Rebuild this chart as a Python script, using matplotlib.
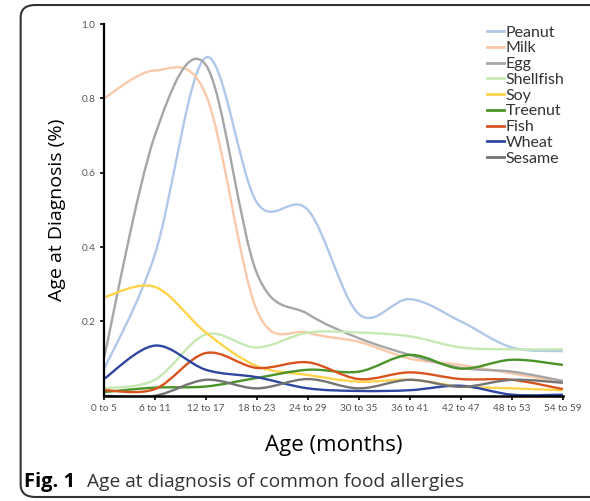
import numpy as np
import matplotlib
matplotlib.use('Agg')
import matplotlib.pyplot as plt
from matplotlib.path import Path
from matplotlib.patches import PathPatch, FancyBboxPatch
from matplotlib.lines import Line2D

# 数据
age_groups = ['0 to 5', '6 to 11', '12 to 17', '18 to 23', '24 to 29',
              '30 to 35', '36 to 41', '42 to 47', '48 to 53', '54 to 59']
peanut = [0.07, 0.38, 0.91, 0.52, 0.50, 0.22, 0.26, 0.20, 0.13, 0.12]
milk = [0.80, 0.875, 0.81, 0.23, 0.17, 0.145, 0.10, 0.083, 0.06, 0.037]
egg = [0.10, 0.70, 0.89, 0.33, 0.22, 0.155, 0.11, 0.075, 0.065, 0.04]
shellfish = [0.02, 0.043, 0.165, 0.13, 0.17, 0.17, 0.16, 0.13, 0.125, 0.125]
soy = [0.265, 0.293, 0.17, 0.08, 0.056, 0.038, 0.043, 0.025, 0.02, 0.015]
treenut = [0.01, 0.022, 0.025, 0.048, 0.07, 0.065, 0.11, 0.073, 0.097, 0.083]
fish = [0.015, 0.018, 0.115, 0.075, 0.09, 0.045, 0.063, 0.045, 0.043, 0.018]
wheat = [0.045, 0.135, 0.07, 0.05, 0.02, 0.013, 0.015, 0.027, 0.003, 0.003]
sesame = [0.0, 0.0, 0.043, 0.02, 0.045, 0.02, 0.043, 0.024, 0.043, 0.035]

names = ['Peanut', 'Milk', 'Egg', 'Shellfish', 'Soy', 'Treenut', 'Fish', 'Wheat', 'Sesame']
series = [peanut, milk, egg, shellfish, soy, treenut, fish, wheat, sesame]
colors = ['#AFC8EA', '#F9C9A9', '#A6A6A6', '#C6E9B3', '#FFD44A',
          '#4A9328', '#D8541F', '#2F47A0', '#747474']


def smooth_path(xs, ys):
    # Excel 风格的平滑曲线（三次贝塞尔）
    pts = np.column_stack([xs, ys])
    n = len(pts)
    verts = [pts[0]]
    codes = [Path.MOVETO]
    for i in range(n - 1):
        p0 = pts[max(i - 1, 0)]
        p1 = pts[i]
        p2 = pts[i + 1]
        p3 = pts[min(i + 2, n - 1)]
        c1 = p1 + (p2 - p0) / 6.0
        c2 = p2 - (p3 - p1) / 6.0
        verts += [c1, c2, p2]
        codes += [Path.CURVE4] * 3
    return Path(verts, codes)


fig = plt.figure(figsize=(5.9, 5.01), dpi=100)
ax = fig.add_axes([0.176, 0.21, 0.778, 0.742])

x = np.arange(len(age_groups))
for name, ys, c in zip(names, series, colors):
    patch = PathPatch(smooth_path(x, ys), fill=False, edgecolor=c, lw=1.7)
    ax.add_patch(patch)

ax.set_xlim(0, len(age_groups) - 1)
ax.set_ylim(0, 1.0)
ax.set_xticks(x)
ax.set_xticklabels(age_groups, fontsize=7.2, color='#555555', family='Lato')
ax.set_yticks([0.2, 0.4, 0.6, 0.8, 1.0])
ax.set_yticklabels(['0.2', '0.4', '0.6', '0.8', '1.0'], fontsize=7.2,
                   color='#555555', family='Lato')
ax.tick_params(direction='out', length=3, width=1.2, pad=3)
for s in ['top', 'right']:
    ax.spines[s].set_visible(False)
ax.spines['left'].set_linewidth(1.6)
ax.spines['bottom'].set_linewidth(1.8)

ax.set_xlabel('Age (months)', fontsize=16, family='Open Sans', labelpad=16)
ax.set_ylabel('Age at Diagnosis (%)', fontsize=14, family='Open Sans', labelpad=11)

handles = [Line2D([0], [0], color=c, lw=2) for c in colors]
leg = ax.legend(handles, names, loc='upper right', bbox_to_anchor=(1.035, 1.035),
                frameon=False, handlelength=1.1, handletextpad=0.1,
                labelspacing=0.1, prop={'family': 'Lato', 'size': 11.5})
for t in leg.get_texts():
    t.set_color('#333333')

# 图注
fig.text(0.04, 0.028, 'Fig. 1', fontsize=14.5, fontweight='bold', family='Open Sans')
fig.text(0.147, 0.028, 'Age at diagnosis of common food allergies', fontsize=13.8,
         family='Open Sans', color='#333333')

# 外框
box = FancyBboxPatch((0.035, 0.008), 1.0, 0.982, boxstyle='round,pad=0,rounding_size=0.025',
                     transform=fig.transFigure, fill=False, edgecolor='#333333', lw=1.5,
                     clip_on=False)
fig.patches.append(box)

fig.savefig('out.png', dpi=100)
